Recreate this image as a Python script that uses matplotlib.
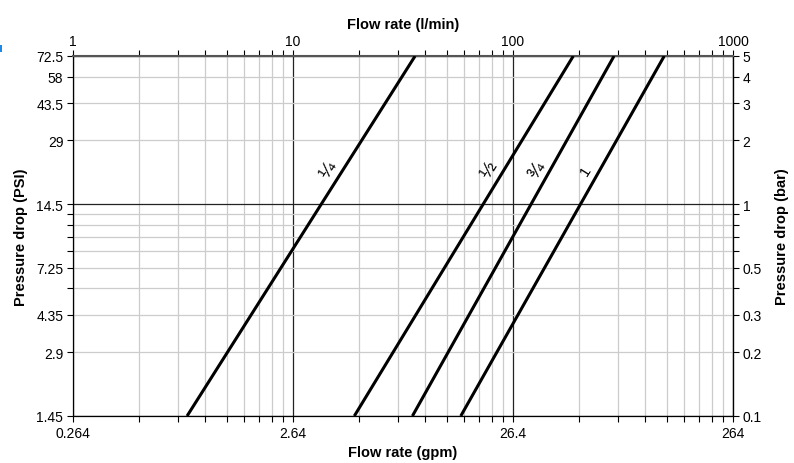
import matplotlib
matplotlib.use("Agg")
import matplotlib.pyplot as plt
from matplotlib.patches import Rectangle
import numpy as np

plt.rcParams['font.family'] = ['Liberation Sans', 'DejaVu Sans']

# valve sizes and their end points (flow in l/min, pressure drop in bar)
sizes = ['¼', '½', '¾', '1']
flow_lo = [3.3, 19.0, 34.9, 57.9]
flow_hi = [35.9, 188.0, 288.0, 487.0]
dp_lo = 0.1
dp_hi = 5.0
label_dp = 1.45  # where the size labels sit along the lines

# axis ticks
x_major = [1, 10, 100, 1000]
x_gpm = ['0.264', '2.64', '26.4', '264']
x_lpm = ['1', '10', '100', '1000']
x_minor = [m * d for d in [1, 10, 100] for m in range(2, 10)]

y_major = [0.1, 1, 5]
y_major_psi = ['1.45', '14.5', '72.5']
y_major_bar = ['0.1', '1', '5']
y_minor = [0.2, 0.3, 0.4, 0.5, 0.6, 0.7, 0.8, 0.9, 2, 3, 4]
y_minor_psi = ['2.9', '4.35', '', '7.25', '', '', '', '', '29', '43.5', '58']
y_minor_bar = ['0.2', '0.3', '', '0.5', '', '', '', '', '2', '3', '4']

fig = plt.figure(figsize=(7.94, 4.64), dpi=100)
ax = fig.add_axes([73 / 794, 1 - 417 / 464, 660 / 794, 360 / 464])
ax.set_xscale('log')
ax.set_yscale('log')
ax.set_xlim(1, 1000)
ax.set_ylim(dp_lo, dp_hi)

for s, f0, f1 in zip(sizes, flow_lo, flow_hi):
    ax.plot([f0, f1], [dp_lo, dp_hi], color='black', lw=2.2, solid_capstyle='butt', zorder=3)
    # point on the (log-log straight) line at label_dp
    t = (np.log10(label_dp) - np.log10(dp_lo)) / (np.log10(dp_hi) - np.log10(dp_lo))
    fx = 10 ** (np.log10(f0) + t * (np.log10(f1) - np.log10(f0)))
    fs = 11 if s == '1' else 14
    ax.annotate(s, (fx, label_dp), xytext=(-14, 0), textcoords='offset pixels',
                ha='center', va='center', rotation=58, fontsize=fs, zorder=4)

ax.set_xticks(x_major)
ax.set_xticklabels(x_gpm)
ax.set_xticks(x_minor, minor=True)
ax.set_xticklabels([], minor=True)
ax.set_yticks(y_major)
ax.set_yticklabels(y_major_psi)
ax.set_yticks(y_minor, minor=True)
ax.set_yticklabels(y_minor_psi, minor=True)

ax.grid(which='major', color='#222222', lw=0.9)
ax.grid(which='minor', color='#cccccc', lw=0.9)
ax.set_axisbelow(True)

ax.tick_params(which='both', direction='out', length=4, width=0.8, labelsize=10, pad=3)

sec_x = ax.secondary_xaxis('top')
sec_x.set_xticks(x_major)
sec_x.set_xticklabels(x_lpm)
sec_x.set_xticks(x_minor, minor=True)
sec_x.set_xticklabels([], minor=True)
sec_x.tick_params(which='both', direction='out', length=4, width=0.8, labelsize=10, pad=2)
sec_x.set_xlabel('Flow rate (l/min)', fontsize=10.5, fontweight='bold', labelpad=4)

sec_y = ax.secondary_yaxis('right')
sec_y.set_yticks(y_major)
sec_y.set_yticklabels(y_major_bar)
sec_y.set_yticks(y_minor, minor=True)
sec_y.set_yticklabels(y_minor_bar, minor=True)
sec_y.tick_params(which='both', direction='out', length=4, width=0.8, labelsize=10, pad=3)
sec_y.set_ylabel('Pressure drop (bar)', fontsize=10.5, fontweight='bold', labelpad=9)

ax.set_xlabel('Flow rate (gpm)', fontsize=10.5, fontweight='bold', labelpad=4)
ax.set_ylabel('Pressure drop (PSI)', fontsize=10.5, fontweight='bold', labelpad=6)

for sp in ax.spines.values():
    sp.set_linewidth(0.9)
ax.spines['top'].set_color('#555555')
ax.spines['top'].set_linewidth(1.5)

# small blue mark at the left edge
fig.patches.append(Rectangle((0, 1 - 53 / 464), 2 / 794, 7 / 464, transform=fig.transFigure,
                             color='#1e88e5', lw=0))

fig.savefig('out.png', dpi=100)
